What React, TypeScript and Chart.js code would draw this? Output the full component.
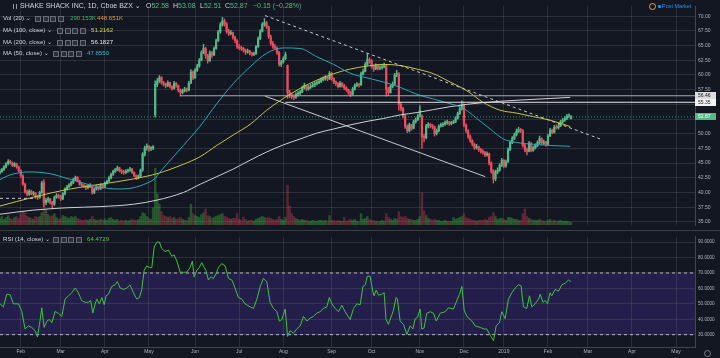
import React, { useEffect, useRef } from 'react';
import { Chart, registerables } from 'chart.js';

Chart.register(...registerables);

// ---------- data ----------
const monthTicks = [0, 19, 40, 61, 83, 104, 125, 148, 167, 190, 211, 230, 251, 270, 291, 312];
const monthLabels = ['Feb', 'Mar', 'Apr', 'May', 'Jun', 'Jul', 'Aug', 'Sep', 'Oct', 'Nov', 'Dec', '2019', 'Feb', 'Mar', 'Apr', 'May'];
const xMin = -9.9;
const xMax = 321;
const firstIndex = -10;

// daily candles [open, high, low, close], trading-day index starting at firstIndex
const candles: number[][] = [
  [43.3, 43.9, 43.1, 43.6], [43.6, 44.1, 43.4, 43.9], [43.9, 44.6, 43.7, 44.4], [44.4, 45.1, 44.2, 44.9], [44.9, 45.6, 44.7, 45.3],
  [45.3, 45.5, 44.8, 45.0], [45.0, 45.2, 44.4, 44.6], [44.6, 45.1, 44.4, 44.9], [44.9, 45.0, 44.1, 44.3], [44.3, 44.5, 43.5, 43.7],
  [43.7, 43.9, 42.6, 42.8], [42.8, 43.0, 41.2, 41.4], [41.4, 41.6, 39.9, 40.1], [40.1, 40.4, 39.4, 39.7], [39.7, 40.5, 39.5, 40.2],
  [40.2, 40.4, 39.6, 39.8], [39.8, 40.2, 39.5, 39.9], [39.9, 40.0, 39.0, 39.3], [39.3, 39.5, 38.8, 39.1], [39.1, 40.2, 39.0, 40.0],
  [40.0, 41.9, 39.9, 41.6], [41.6, 42.2, 37.6, 38.3], [38.3, 39.0, 37.9, 38.7], [38.7, 39.2, 38.3, 38.9], [38.9, 39.0, 38.0, 38.3],
  [38.3, 38.5, 37.2, 38.0], [38.0, 39.4, 37.8, 39.2], [39.2, 39.8, 39.0, 39.5], [39.5, 39.7, 39.0, 39.3], [39.3, 39.5, 38.6, 38.9],
  [38.9, 40.0, 38.8, 39.8], [39.8, 40.8, 39.6, 40.6], [40.6, 41.2, 40.4, 41.0], [41.0, 41.5, 40.8, 41.3], [41.3, 41.9, 41.1, 41.7],
  [41.7, 42.4, 41.5, 42.2], [42.2, 42.8, 42.0, 42.6], [42.6, 42.7, 41.8, 42.0], [42.0, 42.1, 41.2, 41.4], [41.4, 41.6, 41.0, 41.2],
  [41.2, 41.4, 40.8, 41.0], [41.0, 41.2, 40.5, 40.8], [40.8, 41.3, 40.6, 41.0], [41.0, 41.5, 40.8, 41.2], [41.2, 41.3, 39.7, 40.0],
  [40.0, 40.8, 39.8, 40.6], [40.6, 41.2, 40.4, 41.0], [41.0, 41.1, 40.4, 40.6], [40.6, 41.5, 40.5, 41.3], [41.3, 41.4, 40.7, 40.9],
  [40.9, 41.8, 40.8, 41.6], [41.6, 42.1, 41.4, 41.9], [41.9, 42.8, 41.8, 42.5], [42.5, 43.3, 42.3, 43.1], [43.1, 43.8, 42.9, 43.6],
  [43.6, 44.1, 43.4, 43.9], [43.9, 44.5, 43.7, 44.2], [44.2, 44.3, 43.5, 43.7], [43.7, 43.9, 43.2, 43.5], [43.5, 43.8, 43.1, 43.4],
  [43.4, 43.9, 43.2, 43.6], [43.6, 44.0, 43.4, 43.8], [43.8, 44.3, 43.6, 44.0], [44.0, 44.1, 43.2, 43.4], [43.4, 43.5, 42.7, 42.9],
  [42.9, 43.0, 42.2, 42.5], [42.5, 43.0, 42.3, 42.8], [42.8, 44.0, 42.6, 43.8], [43.8, 46.8, 43.6, 46.5], [46.5, 47.9, 46.2, 47.6],
  [47.6, 48.3, 47.2, 47.9], [47.9, 48.0, 47.0, 47.4], [47.4, 47.8, 47.1, 47.6], [47.6, 48.0, 47.3, 47.8], [53.2, 59.0, 52.8, 58.4],
  [58.4, 59.4, 58.0, 59.0], [59.0, 59.9, 58.7, 59.6], [59.6, 59.7, 58.4, 58.7], [58.7, 58.9, 58.1, 58.4], [58.4, 58.6, 57.8, 58.2],
  [58.2, 59.0, 58.0, 58.7], [58.7, 58.8, 57.8, 58.0], [58.0, 58.2, 57.4, 57.7], [57.7, 58.9, 57.6, 58.6], [58.6, 58.7, 57.9, 58.2],
  [58.2, 58.3, 57.1, 57.4], [57.4, 57.6, 56.4, 57.0], [57.0, 57.6, 56.8, 57.3], [57.3, 57.9, 57.1, 57.6], [57.6, 57.8, 57.1, 57.4],
  [57.4, 58.9, 57.3, 58.6], [58.6, 60.9, 58.5, 60.5], [60.5, 60.7, 59.2, 59.5], [59.5, 61.1, 59.4, 60.8], [60.8, 61.8, 60.6, 61.5],
  [61.5, 62.8, 61.3, 62.5], [62.5, 64.1, 62.4, 63.8], [63.8, 65.2, 63.6, 64.5], [64.5, 64.7, 62.8, 63.3], [63.3, 63.5, 62.0, 62.4],
  [62.4, 64.1, 62.3, 63.8], [63.8, 64.0, 63.0, 63.4], [63.4, 64.8, 63.3, 64.5], [64.5, 66.1, 64.4, 65.8], [65.8, 67.6, 65.7, 67.3],
  [67.3, 68.9, 67.1, 68.5], [68.5, 69.8, 68.3, 69.2], [69.2, 69.5, 68.3, 68.7], [68.7, 68.9, 67.1, 67.4], [67.4, 67.8, 66.7, 67.0],
  [67.0, 67.6, 66.8, 67.2], [67.2, 67.3, 66.1, 66.4], [66.4, 66.6, 65.5, 65.8], [65.8, 66.0, 64.5, 64.8], [64.8, 65.2, 64.3, 64.6],
  [64.6, 64.9, 64.2, 64.5], [64.5, 64.7, 63.9, 64.2], [64.2, 64.4, 63.5, 63.9], [63.9, 64.4, 63.7, 64.1], [64.1, 64.2, 63.4, 63.7],
  [63.7, 63.9, 63.2, 63.5], [63.5, 63.9, 63.3, 63.6], [63.6, 65.0, 63.5, 64.8], [64.8, 66.5, 64.7, 66.2], [66.2, 67.7, 66.0, 67.4],
  [67.4, 68.9, 67.3, 68.6], [68.6, 69.6, 68.3, 68.9], [68.9, 69.1, 67.9, 68.2], [68.2, 68.3, 66.2, 66.5], [66.5, 66.8, 65.1, 65.4],
  [65.4, 65.7, 64.5, 64.8], [64.8, 65.2, 64.3, 64.6], [64.6, 64.8, 63.5, 63.8], [63.8, 64.0, 61.5, 61.8], [61.8, 62.5, 61.4, 62.2],
  [62.2, 63.1, 62.0, 62.8], [62.8, 63.9, 62.6, 63.5], [61.6, 61.7, 56.0, 57.0], [57.0, 57.4, 56.1, 56.6], [56.6, 56.9, 55.9, 56.3],
  [56.3, 56.6, 55.8, 56.2], [56.2, 57.0, 56.0, 56.7], [56.7, 57.2, 56.4, 56.9], [56.9, 57.4, 56.6, 57.1], [57.1, 58.1, 57.0, 57.8],
  [57.8, 58.6, 57.6, 58.2], [58.2, 58.3, 57.3, 57.6], [57.6, 58.2, 57.4, 57.9], [57.9, 58.4, 57.7, 58.1], [58.1, 58.6, 57.9, 58.3],
  [58.3, 58.8, 58.0, 58.5], [58.5, 59.0, 58.3, 58.7], [58.7, 59.2, 58.5, 58.9], [58.9, 59.5, 58.7, 59.2], [59.2, 59.7, 59.0, 59.4],
  [59.4, 59.9, 59.1, 59.6], [59.6, 59.7, 59.0, 59.3], [59.3, 60.6, 59.2, 60.3], [60.3, 60.4, 59.1, 59.4], [59.4, 59.5, 58.5, 58.8],
  [58.8, 59.0, 58.2, 58.5], [58.5, 58.7, 57.8, 58.0], [58.0, 58.9, 57.9, 58.6], [58.6, 58.7, 57.9, 58.2], [58.2, 58.4, 57.5, 57.8],
  [57.8, 58.0, 57.2, 57.5], [57.5, 57.6, 56.7, 57.0], [57.0, 57.2, 56.3, 56.7], [56.7, 57.9, 56.6, 57.6], [57.6, 58.5, 57.4, 58.2],
  [58.2, 58.7, 58.0, 58.4], [58.4, 58.6, 57.9, 58.3], [58.3, 60.5, 58.2, 60.2], [60.2, 61.0, 60.0, 60.6], [60.6, 62.1, 60.5, 61.8],
  [61.8, 63.6, 61.6, 62.6], [62.6, 62.9, 62.0, 62.5], [62.5, 62.6, 61.2, 61.5], [61.5, 61.7, 60.6, 61.0], [61.0, 61.9, 60.9, 61.6],
  [61.6, 61.7, 60.8, 61.1], [61.1, 61.6, 60.9, 61.2], [61.2, 61.8, 61.0, 61.4], [61.4, 62.0, 61.2, 61.6], [61.6, 61.7, 56.4, 57.6],
  [57.6, 57.9, 56.5, 57.0], [57.0, 58.3, 56.9, 58.0], [58.0, 58.8, 57.8, 58.4], [58.4, 60.3, 58.3, 60.0], [60.0, 60.8, 59.7, 60.2],
  [60.2, 60.4, 54.0, 55.0], [55.0, 55.3, 53.9, 54.3], [54.3, 54.5, 52.7, 53.0], [53.0, 53.2, 50.9, 51.2], [51.2, 51.5, 50.2, 50.5],
  [50.5, 51.8, 50.3, 51.5], [51.5, 51.6, 50.6, 50.9], [50.9, 52.3, 50.8, 52.0], [52.0, 52.7, 51.8, 52.4], [52.4, 53.3, 52.2, 53.0],
  [53.0, 54.8, 52.8, 54.0], [53.0, 53.2, 47.5, 49.5], [49.5, 49.9, 48.6, 49.3], [49.3, 51.6, 49.1, 51.3], [51.3, 51.9, 51.0, 51.6],
  [51.6, 51.8, 51.0, 51.4], [51.4, 51.6, 50.8, 51.2], [51.2, 51.3, 49.6, 50.0], [50.0, 50.8, 49.8, 50.5], [50.5, 51.5, 50.3, 51.3],
  [51.3, 51.8, 51.1, 51.5], [51.5, 51.9, 51.2, 51.6], [51.6, 52.2, 51.4, 51.9], [51.9, 52.3, 51.6, 52.0], [52.0, 52.1, 51.4, 51.7],
  [51.7, 52.1, 51.5, 51.9], [51.9, 52.3, 51.7, 52.0], [52.0, 52.9, 51.9, 52.6], [52.6, 53.7, 52.5, 53.4], [53.4, 54.5, 53.3, 54.2],
  [54.2, 55.6, 54.0, 55.0], [55.0, 55.1, 51.2, 51.5], [51.5, 51.7, 50.2, 50.5], [50.5, 50.7, 49.2, 49.5], [49.5, 49.8, 48.5, 48.8],
  [48.8, 49.0, 47.9, 48.2], [48.2, 48.4, 47.3, 47.6], [47.6, 48.2, 47.4, 47.8], [47.8, 47.9, 47.0, 47.3], [47.3, 47.5, 46.7, 47.0],
  [47.0, 47.3, 46.5, 46.8], [46.8, 47.0, 46.1, 46.4], [46.4, 46.9, 46.2, 46.6], [46.6, 46.7, 44.7, 45.0], [45.0, 45.2, 43.3, 43.6],
  [43.6, 43.9, 41.6, 42.3], [42.3, 43.8, 42.0, 43.5], [43.5, 44.2, 43.2, 43.8], [43.8, 44.9, 43.6, 44.6], [44.6, 45.8, 44.4, 45.5],
  [45.5, 45.6, 44.2, 44.5], [44.5, 45.5, 44.3, 45.2], [45.2, 47.6, 45.1, 47.3], [47.3, 48.8, 47.1, 48.5], [48.5, 49.5, 48.3, 49.2],
  [49.2, 50.1, 49.0, 49.8], [49.8, 50.8, 49.6, 50.4], [50.4, 51.1, 50.2, 50.7], [50.7, 50.9, 50.2, 50.6], [50.6, 50.7, 47.7, 48.0],
  [48.0, 48.3, 46.9, 47.3], [47.3, 47.6, 46.4, 47.0], [47.0, 48.7, 46.9, 48.4], [48.4, 48.5, 46.9, 47.2], [47.2, 47.9, 47.0, 47.6],
  [47.6, 48.3, 47.4, 48.0], [48.0, 48.8, 47.8, 48.5], [48.5, 49.6, 48.3, 49.2], [49.2, 49.3, 48.1, 48.4], [48.4, 48.9, 48.2, 48.6],
  [48.6, 48.7, 47.9, 48.2], [48.2, 49.9, 48.1, 49.6], [49.6, 50.9, 49.5, 50.6], [50.6, 50.8, 50.0, 50.2], [50.2, 51.4, 50.1, 51.1],
  [51.1, 51.5, 50.8, 51.0], [51.0, 51.6, 50.8, 51.3], [51.3, 52.3, 51.2, 52.0], [52.0, 52.6, 51.8, 52.3], [52.3, 52.9, 52.1, 52.6],
  [52.6, 53.3, 52.4, 53.0], [53.0, 53.4, 52.7, 53.02], [52.58, 53.08, 52.51, 52.87],
];

// daily volume, millions of shares
const volumes: number[] = [
  0.7, 0.9, 0.6, 0.8, 1.0, 0.7, 0.6, 0.8, 0.9, 0.7,
  1.2, 1.4, 1.3, 0.9, 0.8, 0.7, 0.6, 0.9, 0.8, 0.9,
  1.3, 4.6, 1.6, 1.1, 0.9, 1.0, 1.2, 0.8, 0.6, 0.7,
  1.0, 0.9, 0.8, 0.7, 0.9, 0.8, 0.9, 0.7, 0.6, 0.5,
  0.5, 0.6, 0.5, 0.6, 0.9, 0.6, 0.5, 0.5, 0.6, 0.5,
  0.6, 0.5, 0.7, 0.8, 0.6, 0.5, 0.6, 0.4, 0.5, 0.4,
  0.5, 0.4, 0.5, 0.6, 0.5, 0.5, 0.6, 0.9, 1.3, 1.2,
  0.9, 0.7, 0.6, 1.8, 6.0, 3.3, 2.2, 1.4, 1.0, 0.9,
  0.8, 0.9, 0.7, 0.8, 0.6, 0.7, 0.8, 0.6, 0.5, 0.5,
  0.8, 2.2, 1.2, 1.0, 0.9, 0.8, 1.1, 1.3, 1.7, 1.0,
  0.9, 0.7, 0.8, 0.9, 1.0, 1.1, 1.2, 0.9, 0.8, 0.7,
  0.6, 0.7, 0.7, 1.2, 0.6, 0.5, 0.8, 0.6, 0.4, 0.5,
  0.5, 0.4, 0.6, 0.7, 0.8, 0.9, 0.8, 0.7, 0.8, 0.7,
  0.6, 0.5, 0.6, 0.9, 0.6, 0.5, 0.8, 4.2, 2.0, 1.2,
  0.9, 0.7, 0.6, 0.5, 0.6, 0.5, 0.5, 0.4, 0.4, 0.5,
  0.4, 0.4, 0.5, 0.5, 0.4, 0.5, 0.4, 1.0, 0.5, 0.5,
  0.4, 0.5, 0.4, 0.4, 0.8, 0.4, 0.5, 0.6, 0.5, 0.6,
  0.4, 0.4, 1.2, 0.6, 0.7, 0.9, 0.6, 0.5, 0.5, 0.4,
  0.4, 0.4, 0.5, 0.4, 1.2, 0.8, 0.6, 0.5, 0.7, 0.6,
  1.4, 0.9, 0.8, 0.9, 0.7, 0.6, 0.6, 0.5, 0.5, 0.6,
  0.9, 3.4, 1.5, 1.0, 0.7, 0.6, 0.5, 0.6, 0.5, 0.5,
  0.4, 0.4, 0.5, 0.4, 0.4, 0.4, 0.8, 0.6, 0.7, 0.8,
  0.9, 1.2, 0.8, 0.7, 0.6, 0.5, 0.5, 0.4, 0.5, 0.5,
  0.5, 0.6, 0.5, 0.8, 0.9, 1.3, 0.9, 0.6, 0.7, 0.7,
  0.6, 0.5, 0.8, 0.8, 0.7, 0.6, 0.6, 0.5, 0.5, 1.2,
  1.7, 0.9, 0.7, 0.6, 0.5, 0.5, 0.5, 0.6, 0.5, 0.4,
  0.4, 0.5, 0.6, 0.4, 0.5, 0.4, 0.4, 0.5, 0.4, 0.4,
  0.4, 0.35, 0.29,
];

// moving averages: [trading-day index, value]
const ma50: number[][] = [
  [-9.9, 42.2], [-5.1, 43.0], [4.4, 43.5], [13.9, 43.2], [22, 42.4], [29.7, 41.6], [37.8, 40.9], [45.9, 40.6],
  [53.5, 40.8], [60.1, 41.6], [63.9, 42.4], [66.3, 43.5], [69.5, 44.8], [77.4, 48.0], [85.4, 51.3], [93.3, 55.1],
  [101.1, 58.5], [109.2, 61.4], [117.1, 63.7], [125, 64.6], [133, 64.5], [140.9, 63.1], [148.9, 61.8], [156.8, 60.3],
  [164.8, 59.5], [172.7, 58.8], [180.6, 57.9], [188.6, 56.7], [196.5, 55.9], [204.4, 55.1], [210.8, 54.3], [217.1, 52.6],
  [223.5, 50.8], [229.8, 49.1], [236.2, 48.5], [244.1, 48.2], [252, 48.0], [261.6, 47.86],
];
const ma100: number[][] = [
  [-9.9, 37.7], [6, 39.2], [21.9, 40.5], [37.8, 41.4], [53.6, 42.3], [64.8, 43.2], [77.4, 44.8], [85.4, 46.1],
  [93.3, 48.0], [101.2, 49.8], [109.2, 51.6], [117.1, 54.0], [125, 56.0], [133, 57.7], [140.9, 59.1], [148.9, 60.2],
  [156.8, 61.0], [164.8, 61.5], [172.7, 61.8], [180.6, 61.6], [188.6, 61.0], [196.5, 60.2], [204.4, 58.8], [212.4, 57.3],
  [220.3, 55.3], [228.2, 54.0], [236.2, 53.5], [244.1, 52.9], [252, 52.3], [261.6, 51.22],
];
const ma200: number[][] = [
  [-9.9, 36.3], [6, 37.0], [21.9, 37.4], [37.8, 37.6], [53.6, 38.0], [64.8, 38.7], [77.4, 40.0], [85.4, 41.4],
  [93.3, 42.7], [101.2, 44.0], [109.2, 45.5], [117.1, 46.9], [125, 48.1], [133, 49.1], [140.9, 50.1], [148.9, 50.8],
  [156.8, 51.5], [164.8, 52.1], [172.7, 52.6], [180.6, 53.2], [188.6, 53.6], [196.5, 54.1], [204.4, 54.6], [212.4, 55.0],
  [220.3, 55.3], [236.2, 55.7], [252, 56.0], [261.6, 56.18],
];

// RSI(14): [trading-day index, value]
const rsi: number[][] = [
  [-9.9, 50], [-8.3, 48], [-6.7, 56.2], [-5.1, 56], [-3.5, 50], [-1.1, 50], [0.5, 45], [2, 33.7], [3.6, 35.7], [5.2, 34.7],
  [6.8, 32.6], [7.9, 28.5], [8.9, 36.7], [10, 47.4], [11.1, 34.7], [12.4, 38.8], [13.6, 39.8], [14.8, 37.8], [16.3, 45], [17.9, 44],
  [19.5, 41.8], [21.1, 53.1], [22.7, 55.2], [24.3, 57.2], [25.9, 60.3], [27.4, 57.2], [29, 52.1], [30.6, 51], [32.2, 51], [33.3, 52.1],
  [34.3, 44], [35.4, 50], [36.2, 53.1], [37.4, 50], [38.6, 54.1], [39.7, 49.4], [40.6, 55.2], [41.7, 56.2], [43.3, 61.3], [44.9, 62.3],
  [46, 64.4], [47.3, 60.3], [48.9, 59.3], [50.5, 60.3], [52, 62.3], [53.6, 57.2], [55.2, 53.1], [56.5, 54.1], [57.6, 59.3], [58.7, 71.6],
  [60, 74.6], [61.1, 73.6], [62.4, 73.6], [63.5, 86.9], [64.8, 90], [66, 90], [67.1, 85.9], [68.7, 83.9], [70.3, 84.9], [71.9, 80.8],
  [73, 81.8], [74.3, 77.7], [75.9, 70.5], [77.4, 70.5], [79, 70.5], [80.6, 73.6], [81.7, 77.7], [82.5, 67.5], [83.8, 71.6], [85, 73.6],
  [86.2, 76.7], [87.3, 73.6], [88.2, 71.6], [89.3, 65.4], [90.5, 67.5], [91.7, 66.4], [93, 69.5], [94.1, 73.6], [95.7, 76.1], [97.3, 74.6],
  [98.9, 66.4], [100.5, 65.4], [102, 60.3], [103.6, 54.1], [105.2, 53.1], [106.8, 50], [109.2, 48], [110.8, 47], [112.4, 53.1], [114, 61.3],
  [115.5, 66.4], [117.1, 64.4], [118.7, 51], [120.3, 47], [121.9, 45], [123.1, 38.8], [124.3, 39.8], [125.9, 46.6], [127, 28.9], [128.2, 32.6],
  [129.8, 31], [131.4, 33.7], [133, 35.7], [134.6, 41.8], [136.2, 38.8], [137.8, 40.8], [139.3, 41.8], [140.9, 43.9], [142.5, 44.9], [144.1, 47],
  [145.7, 48], [146.9, 54.1], [148.1, 50], [149.7, 47], [151.2, 44.9], [152.9, 49], [154.4, 44.9], [156.8, 39.8], [158.4, 47], [160, 50],
  [161.6, 49.4], [162.9, 61.3], [164, 62.3], [165, 67.9], [166.3, 67.9], [167.6, 58.2], [168.2, 55.2], [169.2, 58.9], [170.3, 55.6], [171.9, 56.2],
  [173, 57.2], [173.9, 39.8], [175, 36.7], [176.7, 42.9], [177.4, 45.9], [178.7, 54.1], [179.3, 53.1], [180.6, 38.8], [182.2, 36.7], [183.8, 30.2],
  [185.4, 35.7], [186.7, 33.7], [187.8, 40.4], [188.9, 41.2], [190.1, 46.6], [190.9, 33.7], [192, 34.3], [193.3, 43.9], [194.9, 44.9], [196.5, 43.9],
  [197.8, 38.8], [199.7, 43.9], [202.1, 44.9], [203.6, 47.4], [206, 46.6], [207.6, 52.1], [208.9, 56.2], [210, 61.3], [211.1, 45.9], [212.4, 41.8],
  [214.8, 38.8], [216.3, 35.7], [218.7, 34.7], [220.6, 33.7], [221.9, 33.7], [223.5, 29.6], [225.1, 26.1], [226.3, 35.7], [227.9, 37.8], [229, 44.9],
  [230.6, 40.4], [232.2, 53.1], [233.8, 57.2], [235.4, 60.3], [236.9, 62.3], [238.2, 61.7], [239.3, 48], [240.9, 47], [242.2, 55.2], [243.3, 48],
  [244.9, 50], [246.5, 53.1], [247.3, 56.2], [248.6, 51], [249.7, 52.1], [250.8, 50], [252, 57.2], [252.8, 55.2], [254.4, 59.3], [256, 58.2],
  [257.6, 62.3], [259.2, 63.4], [260.8, 65.4], [261.9, 64.47],
];

const priceTicks = [35, 37.5, 40, 42.5, 45, 47.5, 50, 52.5, 55, 57.5, 60, 62.5, 65, 67.5, 70];
const rsiTicks = [30, 40, 50, 60, 70, 80, 90];
const rsiBands = [30, 70];
const levels = [56.46, 55.35];
const levelStarts = [75.9, 126];
const lastPrice = 52.87;
const trendDashed = [[116.3, 70.1], [275.9, 49.1]];
const trendSolid = [[116.3, 56.4], [221.1, 42.7]];
const trendShort = [[-9.9, 39.0], [5.8, 39.0]];

// ---------- styles ----------
const BG = '#131722';
const UP = '#53b987';
const DOWN = '#eb4d5c';
const GRID = 'rgba(120,124,138,0.24)';
const AXIS_TEXT = '#b2b5be';
const AXIS_LINE = '#434651';
const FONT = "'Liberation Sans', 'DejaVu Sans', sans-serif";

const pts = (arr: number[][]) => arr.map(([x, y]) => ({ x, y }));

function Icons({ left, top }: { left: number; top: number }) {
  return (
    <div style={{ position: 'absolute', left, top, display: 'flex', gap: 1.5 }}>
      {[0, 1, 2, 3].map((i) => (
        <div key={i} style={{ width: 4, height: 4, border: '0.8px solid #6b6e79', background: '#2a2e39', borderRadius: 0.5 }} />
      ))}
    </div>
  );
}

const line = (left: number, top: number, color = '#d1d4dc', size = 6.1): React.CSSProperties => ({
  position: 'absolute', left, top, fontSize: size, lineHeight: '8px', color, whiteSpace: 'nowrap',
});

export default function App() {
  const priceRef = useRef<HTMLCanvasElement>(null);
  const rsiRef = useRef<HTMLCanvasElement>(null);

  useEffect(() => {
    document.body.style.margin = '0';
    document.body.style.background = BG;

    const isUp = (c: number[]) => c[3] >= c[0];
    const candleColors = candles.map((c) => (isUp(c) ? UP : DOWN));
    const volColors = candles.map((c) => (isUp(c) ? 'rgba(60,165,60,0.42)' : 'rgba(200,60,80,0.40)'));
    const wickData = candles.map((c, i) => ({ x: firstIndex + i, y: [c[2], c[1]] }));
    const bodyData = candles.map((c, i) => ({ x: firstIndex + i, y: [c[0], c[3]] }));
    const volData = volumes.map((v, i) => ({ x: firstIndex + i, y: v }));

    const xBase = (showLabels: boolean): any => ({
      type: 'linear',
      min: xMin,
      max: xMax,
      offset: false,
      afterBuildTicks: (s: any) => { s.ticks = monthTicks.map((v) => ({ value: v })); },
      afterFit: (s: any) => { s.height = showLabels ? 11 : 0; },
      ticks: {
        display: showLabels,
        autoSkip: false,
        maxRotation: 0,
        padding: 2,
        color: AXIS_TEXT,
        font: { size: 5, family: FONT },
        callback: (_v: any, i: number) => monthLabels[i],
      },
      grid: { color: GRID, drawTicks: false, offset: false },
      border: { display: showLabels, color: AXIS_LINE },
    });

    const axisLabels = {
      id: 'axisLabels',
      afterDraw(chart: any) {
        const { ctx, chartArea } = chart;
        const y = chart.scales.y;
        const items = [
          { v: levels[0], bg: '#dcdcdc', fg: '#131722' },
          { v: levels[1], bg: '#f4f4f4', fg: '#131722' },
          { v: lastPrice, bg: UP, fg: '#ffffff' },
        ];
        ctx.save();
        items.forEach((it) => {
          const py = y.getPixelForValue(it.v);
          ctx.fillStyle = it.bg;
          ctx.fillRect(chartArea.right, Math.round(py - 3.5), 21, 7);
          ctx.fillStyle = it.fg;
          ctx.font = `5px ${FONT}`;
          ctx.textBaseline = 'middle';
          ctx.textAlign = 'left';
          ctx.fillText(it.v.toFixed(2), chartArea.right + 3, py);
        });
        ctx.restore();
      },
    };

    const lineDs = (data: any[], color: string, order: number, extra: any = {}) => ({
      type: 'line',
      data,
      borderColor: color,
      borderWidth: 1,
      pointRadius: 0,
      fill: false,
      yAxisID: 'y',
      order,
      ...extra,
    });

    const price = new Chart(priceRef.current as HTMLCanvasElement, {
      type: 'bar',
      data: {
        datasets: [
          { type: 'bar', data: volData as any, yAxisID: 'vol', backgroundColor: volColors, barThickness: 1.8, grouped: false, order: 20 },
          { type: 'bar', data: wickData as any, yAxisID: 'y', backgroundColor: candleColors, barThickness: 0.8, grouped: false, order: 15 },
          { type: 'bar', data: bodyData as any, yAxisID: 'y', backgroundColor: candleColors, barThickness: 1.6, minBarLength: 0.8, grouped: false, order: 14 },
          lineDs(pts(ma200), '#cfd0d4', 10, { cubicInterpolationMode: 'monotone' }),
          lineDs(pts(ma100), '#c9c63c', 9, { cubicInterpolationMode: 'monotone' }),
          lineDs(pts(ma50), '#2aa7bd', 8, { cubicInterpolationMode: 'monotone' }),
          lineDs([{ x: levelStarts[0], y: levels[0] }, { x: xMax, y: levels[0] }], '#a9abb0', 6),
          lineDs([{ x: levelStarts[1], y: levels[1] }, { x: xMax, y: levels[1] }], '#e6e6e6', 6),
          lineDs(pts(trendDashed), '#c8c9cc', 5, { borderDash: [3, 3] }),
          lineDs(pts(trendSolid), '#c8c9cc', 5),
          lineDs(pts(trendShort), '#c8c9cc', 5, { borderDash: [3, 3] }),
          lineDs([{ x: xMin, y: lastPrice }, { x: xMax, y: lastPrice }], 'rgba(83,185,135,0.75)', 4, { borderDash: [1, 2] }),
        ] as any,
      },
      options: {
        animation: false,
        responsive: false,
        devicePixelRatio: 1,
        events: [],
        layout: { padding: 0 },
        plugins: { legend: { display: false }, tooltip: { enabled: false } },
        scales: {
          x: xBase(false),
          y: {
            type: 'linear',
            position: 'right',
            min: 34.47,
            max: 71.73,
            afterBuildTicks: (s: any) => { s.ticks = priceTicks.map((v) => ({ value: v })); },
            afterFit: (s: any) => { s.width = 25; },
            ticks: { color: AXIS_TEXT, font: { size: 5, family: FONT }, padding: 3, autoSkip: false, callback: (v: any) => Number(v).toFixed(2) },
            grid: { color: GRID, drawTicks: false },
            border: { display: true, color: AXIS_LINE },
          },
          vol: { type: 'linear', display: false, min: 0, max: 23.1 },
        } as any,
      },
      plugins: [axisLabels],
    });

    const bandPlugin = {
      id: 'rsiBand',
      beforeDraw(chart: any) {
        const { ctx, chartArea } = chart;
        const y = chart.scales.y;
        const top = y.getPixelForValue(rsiBands[1]);
        const bottom = y.getPixelForValue(rsiBands[0]);
        ctx.save();
        ctx.fillStyle = 'rgba(100,60,220,0.22)';
        ctx.fillRect(chartArea.left, top, chartArea.right - chartArea.left, bottom - top);
        ctx.restore();
      },
    };

    const rsiChart = new Chart(rsiRef.current as HTMLCanvasElement, {
      type: 'line',
      data: {
        datasets: [
          { data: pts(rsi), borderColor: '#3fc43a', borderWidth: 1, pointRadius: 0, fill: false, order: 1 },
          ...rsiBands.map((b) => ({
            data: [{ x: xMin, y: b }, { x: xMax, y: b }],
            borderColor: 'rgba(210,212,220,0.85)',
            borderWidth: 1,
            borderDash: [3, 3],
            pointRadius: 0,
            fill: false,
            order: 2,
          })),
        ] as any,
      },
      options: {
        animation: false,
        responsive: false,
        devicePixelRatio: 1,
        events: [],
        layout: { padding: 0 },
        plugins: { legend: { display: false }, tooltip: { enabled: false } },
        scales: {
          x: xBase(true),
          y: {
            type: 'linear',
            position: 'right',
            min: 22.0,
            max: 93.5,
            afterBuildTicks: (s: any) => { s.ticks = rsiTicks.map((v) => ({ value: v })); },
            afterFit: (s: any) => { s.width = 25; },
            ticks: { color: AXIS_TEXT, font: { size: 4.6, family: FONT }, padding: 3, autoSkip: false, callback: (v: any) => Number(v).toFixed(4) },
            grid: { color: GRID, drawTicks: false },
            border: { display: true, color: AXIS_LINE },
          },
        } as any,
      },
      plugins: [bandPlugin],
    });

    return () => {
      price.destroy();
      rsiChart.destroy();
    };
  }, []);

  const green = '#53b987';
  const H = 7; // header font size
  return (
    <div style={{ position: 'absolute', left: 0, top: 0, width: 720, height: 358, background: BG, overflow: 'hidden', fontFamily: FONT }}>
      <canvas ref={priceRef} width={720} height={231} style={{ position: 'absolute', left: 0, top: 0, width: 720, height: 231 }} />
      <canvas ref={rsiRef} width={720} height={127} style={{ position: 'absolute', left: 0, top: 231, width: 720, height: 127 }} />
      <div style={{ position: 'absolute', left: 0, top: 230, width: 720, height: 1, background: '#3a3e49' }} />

      {/* header line */}
      <div style={{ position: 'absolute', left: 13, top: 3.5, width: 2, height: 5, borderLeft: '1px solid #9598a1', borderRight: '1px solid #9598a1' }} />
      <div style={line(20, 2, '#d1d4dc', H)}>SHAKE SHACK INC, 1D, Cboe BZX ⌄</div>
      <div style={line(146, 2, '#d1d4dc', H)}>O<span style={{ color: green }}>52.58</span></div>
      <div style={line(173, 2, '#d1d4dc', H)}>H<span style={{ color: green }}>53.08</span></div>
      <div style={line(200, 2, '#d1d4dc', H)}>L<span style={{ color: green }}>52.51</span></div>
      <div style={line(225, 2, '#d1d4dc', H)}>C<span style={{ color: green }}>52.87</span></div>
      <div style={line(253, 2, green, H)}>−0.15 (−0.28%)</div>

      <div style={line(3, 14)}>Vol (20) ⌄</div>
      <Icons left={35} top={15.5} />
      <div style={line(70, 14, '#3cb95b')}>290.153K</div>
      <div style={line(97, 14, '#e8923c')}>448.651K</div>

      <div style={line(3, 26)}>MA (100, close) ⌄</div>
      <Icons left={57} top={27.5} />
      <div style={line(91, 26, '#d6d43e')}>51.2162</div>

      <div style={line(3, 38)}>MA (200, close) ⌄</div>
      <Icons left={57} top={39.5} />
      <div style={line(91, 38, '#e6e6e6')}>56.1827</div>

      <div style={line(3, 49)}>MA (50, close) ⌄</div>
      <Icons left={53} top={50.5} />
      <div style={line(87, 49, '#33b5c9')}>47.8550</div>

      {/* top-right */}
      <div style={{ position: 'absolute', left: 649, top: 3, width: 5, height: 5, border: '1px solid #f0a04b', borderRadius: '50%' }} />
      <div style={{ position: 'absolute', left: 658, top: 5, width: 2.5, height: 2.5, background: '#2196f3', borderRadius: '50%' }} />
      <div style={line(662, 2, '#2196f3', 5.5)}>Post Market</div>

      {/* RSI legend */}
      <div style={line(3, 235)}>RSI (14, close) ⌄</div>
      <Icons left={53} top={236.5} />
      <div style={line(87, 235, '#4ccf3a')}>64.4729</div>

      {/* settings icon */}
      <div style={{ position: 'absolute', left: 704, top: 350, width: 5, height: 5, border: '1px solid #787b86', borderRadius: '50%' }} />
    </div>
  );
}
